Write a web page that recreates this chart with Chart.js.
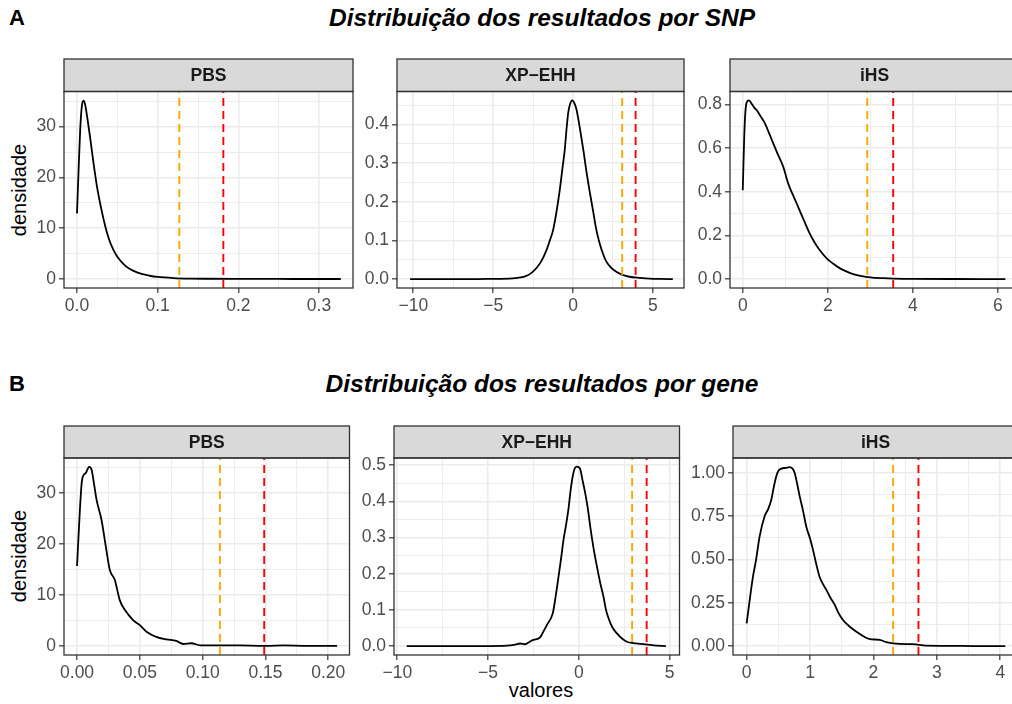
<!DOCTYPE html>
<html>
<head>
<meta charset="utf-8">
<script src="https://cdn.jsdelivr.net/npm/chart.js@4.4.1/dist/chart.umd.min.js"></script>
<style>
    body { margin: 0; background: #fff; overflow: hidden; }
    #page { position: relative; width: 1012px; height: 704px; overflow: hidden; font-family: "Liberation Sans", Arial, Helvetica, sans-serif; }
    .lbl { position: absolute; white-space: nowrap; color: #000; line-height: 1; }
</style>
</head>
<body>
<div id="page">
    <div class="lbl" style="left:9px;top:7px;font-size:22px;font-weight:bold;">A</div>
    <div class="lbl" style="left:542px;top:6px;font-size:24.5px;font-weight:bold;font-style:italic;transform:translateX(-50%);">Distribuição dos resultados por SNP</div>
    <div class="lbl" style="left:9px;top:373px;font-size:22px;font-weight:bold;">B</div>
    <div class="lbl" style="left:542px;top:372px;font-size:24.5px;font-weight:bold;font-style:italic;transform:translateX(-50%);">Distribuição dos resultados por gene</div>
    <div class="lbl" style="left:19px;top:190px;font-size:20px;transform:translate(-50%,-50%) rotate(-90deg);">densidade</div>
    <div class="lbl" style="left:19px;top:556px;font-size:20px;transform:translate(-50%,-50%) rotate(-90deg);">densidade</div>
    <div class="lbl" style="left:541px;top:690px;font-size:20px;transform:translate(-50%,-50%);">valores</div>
</div>
<script>
// A - por SNP
const pbsSnpX = [0, 0.002, 0.004, 0.006, 0.008, 0.010, 0.013, 0.016, 0.020, 0.025, 0.030, 0.035, 0.040, 0.045, 0.050, 0.060, 0.070, 0.080, 0.090, 0.100, 0.120, 0.140, 0.160, 0.200, 0.250, 0.300, 0.327];
const pbsSnpY = [12.9, 21.5, 29.5, 34.0, 35.1, 34.4, 31.5, 28.2, 23.4, 18.0, 13.9, 10.4, 7.7, 5.8, 4.4, 2.6, 1.6, 1.0, 0.65, 0.42, 0.2, 0.1, 0.06, 0.03, 0.02, 0.01, 0.01];
const pbsSnpCuts = [0.1268, 0.1814];

const xpSnpX = [-10.2, -8, -6, -5, -4, -3.5, -3, -2.6, -2.3, -2.0, -1.66, -1.45, -1.25, -1.05, -0.83, -0.65, -0.52, -0.4, -0.3, -0.2, -0.05, 0.05, 0.21, 0.35, 0.52, 0.68, 0.83, 1.05, 1.25, 1.45, 1.67, 1.9, 2.09, 2.4, 2.71, 3.1, 3.54, 4.2, 4.8, 5.5, 6.25];
const xpSnpY = [0, 0, 0, 0.0005, 0.001, 0.003, 0.007, 0.016, 0.028, 0.045, 0.075, 0.1, 0.126, 0.17, 0.23, 0.29, 0.333, 0.39, 0.43, 0.45, 0.462, 0.458, 0.44, 0.41, 0.367, 0.325, 0.281, 0.225, 0.178, 0.13, 0.092, 0.063, 0.045, 0.029, 0.019, 0.011, 0.006, 0.003, 0.001, 0.0003, 0];
const xpSnpCuts = [3.08, 3.92];

const ihsSnpX = [0, 0.03, 0.054, 0.094, 0.148, 0.21, 0.27, 0.33, 0.42, 0.525, 0.62, 0.72, 0.84, 0.955, 1.07, 1.17, 1.27, 1.37, 1.47, 1.56, 1.66, 1.8, 1.98, 2.13, 2.29, 2.45, 2.6, 2.8, 3.0, 3.3, 3.55, 4, 5, 6.18];
const ihsSnpY = [0.407, 0.62, 0.742, 0.81, 0.818, 0.803, 0.785, 0.773, 0.745, 0.712, 0.668, 0.62, 0.565, 0.513, 0.437, 0.39, 0.346, 0.30, 0.255, 0.215, 0.178, 0.135, 0.094, 0.07, 0.049, 0.034, 0.023, 0.014, 0.008, 0.004, 0.002, 0.001, 0.0003, 0];
const ihsSnpCuts = [2.93, 3.54];

// B - por gene
const pbsGeneX = [0, 0.0021, 0.004, 0.0069, 0.0096, 0.0115, 0.0135, 0.0155, 0.0194, 0.0229, 0.0261, 0.030, 0.034, 0.038, 0.0446, 0.050, 0.0553, 0.063, 0.0712, 0.079, 0.0845, 0.091, 0.098, 0.11, 0.13, 0.15, 0.165, 0.18, 0.207];
const pbsGeneY = [15.7, 26, 32.6, 33.9, 35.1, 34.6, 31.8, 28.7, 24.8, 19.5, 14.9, 13, 9.0, 7.1, 5.1, 4.1, 2.8, 1.8, 1.3, 1.0, 0.4, 0.55, 0.15, 0.15, 0.12, 0.05, 0.12, 0.05, 0.03];
const pbsGeneCuts = [0.1137, 0.149];

const xpGeneX = [-9.48, -7, -5, -3.97, -3.5, -3.23, -2.96, -2.7, -2.5, -2.13, -1.95, -1.76, -1.43, -1.28, -1.12, -0.98, -0.84, -0.7, -0.57, -0.45, -0.33, -0.2, -0.1, 0.08, 0.2, 0.35, 0.5, 0.63, 0.8, 1.0, 1.18, 1.36, 1.5, 1.64, 1.85, 2.1, 2.4, 2.65, 3.0, 3.39, 3.8, 4.12, 4.8];
const xpGeneY = [0, 0, 0, 0.001, 0.004, 0.007, 0.005, 0.012, 0.017, 0.024, 0.04, 0.058, 0.091, 0.135, 0.19, 0.24, 0.294, 0.335, 0.378, 0.43, 0.47, 0.493, 0.496, 0.489, 0.46, 0.424, 0.38, 0.331, 0.275, 0.22, 0.175, 0.137, 0.1, 0.077, 0.052, 0.035, 0.02, 0.012, 0.008, 0.006, 0.004, 0.002, 0];
const xpGeneCuts = [2.94, 3.74];

const ihsGeneX = [0, 0.1, 0.15, 0.205, 0.284, 0.34, 0.39, 0.43, 0.468, 0.5, 0.547, 0.62, 0.68, 0.72, 0.757, 0.8, 0.836, 0.89, 0.94, 1.0, 1.046, 1.1, 1.15, 1.2, 1.257, 1.32, 1.39, 1.45, 1.52, 1.6, 1.677, 1.75, 1.834, 1.9, 1.97, 2.1, 2.2, 2.41, 2.62, 2.83, 3.2, 3.6, 4.08];
const ihsGeneY = [0.131, 0.40, 0.5, 0.633, 0.749, 0.79, 0.845, 0.92, 0.98, 1.01, 1.023, 1.028, 1.032, 1.025, 1.0, 0.93, 0.865, 0.78, 0.69, 0.62, 0.556, 0.47, 0.40, 0.36, 0.324, 0.28, 0.237, 0.19, 0.15, 0.12, 0.097, 0.078, 0.058, 0.045, 0.039, 0.036, 0.023, 0.012, 0.011, 0.002, 0.001, 0, 0];
const ihsGeneCuts = [2.31, 2.71];

// ticks
const pbsSnpXTicks = [0, 0.1, 0.2, 0.3];
const pbsSnpXLabels = ['0.0', '0.1', '0.2', '0.3'];
const pbsSnpXMinor = [0.05, 0.15, 0.25];
const pbsGeneXTicks = [0, 0.05, 0.1, 0.15, 0.2];
const pbsGeneXLabels = ['0.00', '0.05', '0.10', '0.15', '0.20'];
const pbsGeneXMinor = [0.025, 0.075, 0.125, 0.175];
const pbsYTicks = [0, 10, 20, 30];
const pbsYLabels = ['0', '10', '20', '30'];
const pbsYMinor = [5, 15, 25, 35];
const xpXTicks = [-10, -5, 0, 5];
const xpXLabels = ['\u221210', '\u22125', '0', '5'];
const xpXMinor = [-7.5, -2.5, 2.5];
const xpSnpYTicks = [0, 0.1, 0.2, 0.3, 0.4];
const xpSnpYLabels = ['0.0', '0.1', '0.2', '0.3', '0.4'];
const xpSnpYMinor = [0.05, 0.15, 0.25, 0.35, 0.45];
const xpGeneYTicks = [0, 0.1, 0.2, 0.3, 0.4, 0.5];
const xpGeneYLabels = ['0.0', '0.1', '0.2', '0.3', '0.4', '0.5'];
const xpGeneYMinor = [0.05, 0.15, 0.25, 0.35, 0.45];
const ihsSnpXTicks = [0, 2, 4, 6];
const ihsSnpXLabels = ['0', '2', '4', '6'];
const ihsSnpXMinor = [1, 3, 5];
const ihsSnpYTicks = [0, 0.2, 0.4, 0.6, 0.8];
const ihsSnpYLabels = ['0.0', '0.2', '0.4', '0.6', '0.8'];
const ihsSnpYMinor = [0.1, 0.3, 0.5, 0.7];
const ihsGeneXTicks = [0, 1, 2, 3, 4];
const ihsGeneXLabels = ['0', '1', '2', '3', '4'];
const ihsGeneXMinor = [0.5, 1.5, 2.5, 3.5];
const ihsGeneYTicks = [0, 0.25, 0.5, 0.75, 1];
const ihsGeneYLabels = ['0.00', '0.25', '0.50', '0.75', '1.00'];
const ihsGeneYMinor = [0.125, 0.375, 0.625, 0.875];

const FONT = '"Liberation Sans", Arial, Helvetica, sans-serif';
const YW = 56, XH = 34, RP = 16;
const rowA = { strip: 59, top: 91.5, bottom: 288 };
const rowB = { strip: 426, top: 458, bottom: 655 };

// strip on top of each panel + the dark frame
const framePlugin = {
    id: 'frame',
    afterDraw(chart, args, opts) {
        const { ctx, chartArea: a } = chart;
        const w = a.right - a.left;
        ctx.save();
        ctx.fillStyle = '#D9D9D9';
        ctx.fillRect(a.left, a.top - opts.h, w, opts.h);
        ctx.strokeStyle = '#333333';
        ctx.lineWidth = 1.3;
        ctx.strokeRect(a.left, a.top - opts.h, w, opts.h);
        ctx.strokeRect(a.left, a.top, w, a.bottom - a.top);
        ctx.fillStyle = '#1A1A1A';
        ctx.font = 'bold 17.5px ' + FONT;
        ctx.textAlign = 'center';
        ctx.textBaseline = 'middle';
        ctx.fillText(opts.text, a.left + w / 2, a.top - opts.h / 2 + 1);
        ctx.restore();
    }
};

const axis = (lim, major, labels, minor, isX) => ({
    type: 'linear',
    min: lim[0],
    max: lim[1],
    afterBuildTicks: s => {
        s.ticks = major.concat(minor).sort((p, q) => p - q).map(v => ({ value: v }));
    },
    afterFit: s => {
        if (isX) { s.height = XH; s.paddingLeft = 0; s.paddingRight = 0; }
        else { s.width = YW; s.paddingTop = 0; s.paddingBottom = 0; }
    },
    border: { display: false },
    grid: {
        color: '#EBEBEB',
        lineWidth: c => (c.tick && major.includes(c.tick.value)) ? 1.6 : 0.9,
        tickColor: c => (c.tick && major.includes(c.tick.value)) ? '#333333' : 'rgba(0,0,0,0)',
        tickWidth: 1.2,
        tickLength: 5
    },
    ticks: {
        autoSkip: false,
        maxRotation: 0,
        minRotation: 0,
        padding: 3,
        color: '#4D4D4D',
        font: { family: FONT, size: 17.5 },
        callback: v => {
            const k = major.indexOf(v);
            return k < 0 ? '' : labels[k];
        }
    }
});

const cutLine = (x, color, lim) => ({
    data: [{ x: x, y: lim[0] }, { x: x, y: lim[1] }],
    borderColor: color,
    borderWidth: 1.9,
    borderDash: [8, 5],
    pointRadius: 0
});

const displayPanel = (p) => {
    const row = p.row;
    const cLeft = Math.floor(p.box[0] - YW);
    const cTop = row.strip - 2;
    const w = Math.ceil(p.box[1] - cLeft + RP);
    const h = Math.ceil(row.bottom - cTop + XH);
    const canvas = document.createElement('canvas');
    canvas.width = w;
    canvas.height = h;
    canvas.style.cssText = `position:absolute;left:${cLeft}px;top:${cTop}px;width:${w}px;height:${h}px;`;
    document.getElementById('page').appendChild(canvas);

    new Chart(canvas, {
        type: 'line',
        data: {
            datasets: [
                cutLine(p.cuts[1], '#FF0000', p.yLim),
                cutLine(p.cuts[0], '#FFA500', p.yLim),
                {
                    data: p.xs.map((x, i) => ({ x: x, y: p.ys[i] })),
                    borderColor: '#000000',
                    borderWidth: 1.8,
                    pointRadius: 0,
                    cubicInterpolationMode: 'monotone',
                    fill: false
                }
            ]
        },
        options: {
            responsive: false,
            animation: false,
            events: [],
            layout: {
                padding: {
                    top: row.top - cTop,
                    left: p.box[0] - cLeft - YW,
                    right: w - (p.box[1] - cLeft),
                    bottom: h - XH - (row.bottom - cTop)
                }
            },
            plugins: {
                legend: { display: false },
                tooltip: { enabled: false },
                frame: { h: row.top - row.strip, text: p.strip }
            },
            scales: {
                x: axis(p.xLim, p.xTicks, p.xLabels, p.xMinor, true),
                y: axis(p.yLim, p.yTicks, p.yLabels, p.yMinor, false)
            }
        },
        plugins: [framePlugin]
    });
};

displayPanel({ row: rowA, box: [64, 353], strip: 'PBS', xs: pbsSnpX, ys: pbsSnpY, cuts: pbsSnpCuts,
    xLim: [-0.0161, 0.3421], yLim: [-1.76, 36.91],
    xTicks: pbsSnpXTicks, xLabels: pbsSnpXLabels, xMinor: pbsSnpXMinor,
    yTicks: pbsYTicks, yLabels: pbsYLabels, yMinor: pbsYMinor });
displayPanel({ row: rowA, box: [397, 684], strip: 'XP\u2212EHH', xs: xpSnpX, ys: xpSnpY, cuts: xpSnpCuts,
    xLim: [-11.02, 6.95], yLim: [-0.0231, 0.4851],
    xTicks: xpXTicks, xLabels: xpXLabels, xMinor: xpXMinor,
    yTicks: xpSnpYTicks, yLabels: xpSnpYLabels, yMinor: xpSnpYMinor });
displayPanel({ row: rowA, box: [730, 1019], strip: 'iHS', xs: ihsSnpX, ys: ihsSnpY, cuts: ihsSnpCuts,
    xLim: [-0.30, 6.50], yLim: [-0.0409, 0.8589],
    xTicks: ihsSnpXTicks, xLabels: ihsSnpXLabels, xMinor: ihsSnpXMinor,
    yTicks: ihsSnpYTicks, yLabels: ihsSnpYLabels, yMinor: ihsSnpYMinor });
displayPanel({ row: rowB, box: [64, 349.5], strip: 'PBS', xs: pbsGeneX, ys: pbsGeneY, cuts: pbsGeneCuts,
    xLim: [-0.0104, 0.2169], yLim: [-1.755, 36.855],
    xTicks: pbsGeneXTicks, xLabels: pbsGeneXLabels, xMinor: pbsGeneXMinor,
    yTicks: pbsYTicks, yLabels: pbsYLabels, yMinor: pbsYMinor });
displayPanel({ row: rowB, box: [394, 679.5], strip: 'XP\u2212EHH', xs: xpGeneX, ys: xpGeneY, cuts: xpGeneCuts,
    xLim: [-10.18, 5.55], yLim: [-0.02475, 0.51975],
    xTicks: xpXTicks, xLabels: xpXLabels, xMinor: xpXMinor,
    yTicks: xpGeneYTicks, yLabels: xpGeneYLabels, yMinor: xpGeneYMinor });
displayPanel({ row: rowB, box: [733, 1018], strip: 'iHS', xs: ihsGeneX, ys: ihsGeneY, cuts: ihsGeneCuts,
    xLim: [-0.215, 4.28], yLim: [-0.05165, 1.08465],
    xTicks: ihsGeneXTicks, xLabels: ihsGeneXLabels, xMinor: ihsGeneXMinor,
    yTicks: ihsGeneYTicks, yLabels: ihsGeneYLabels, yMinor: ihsGeneYMinor });
</script>
</body>
</html>
